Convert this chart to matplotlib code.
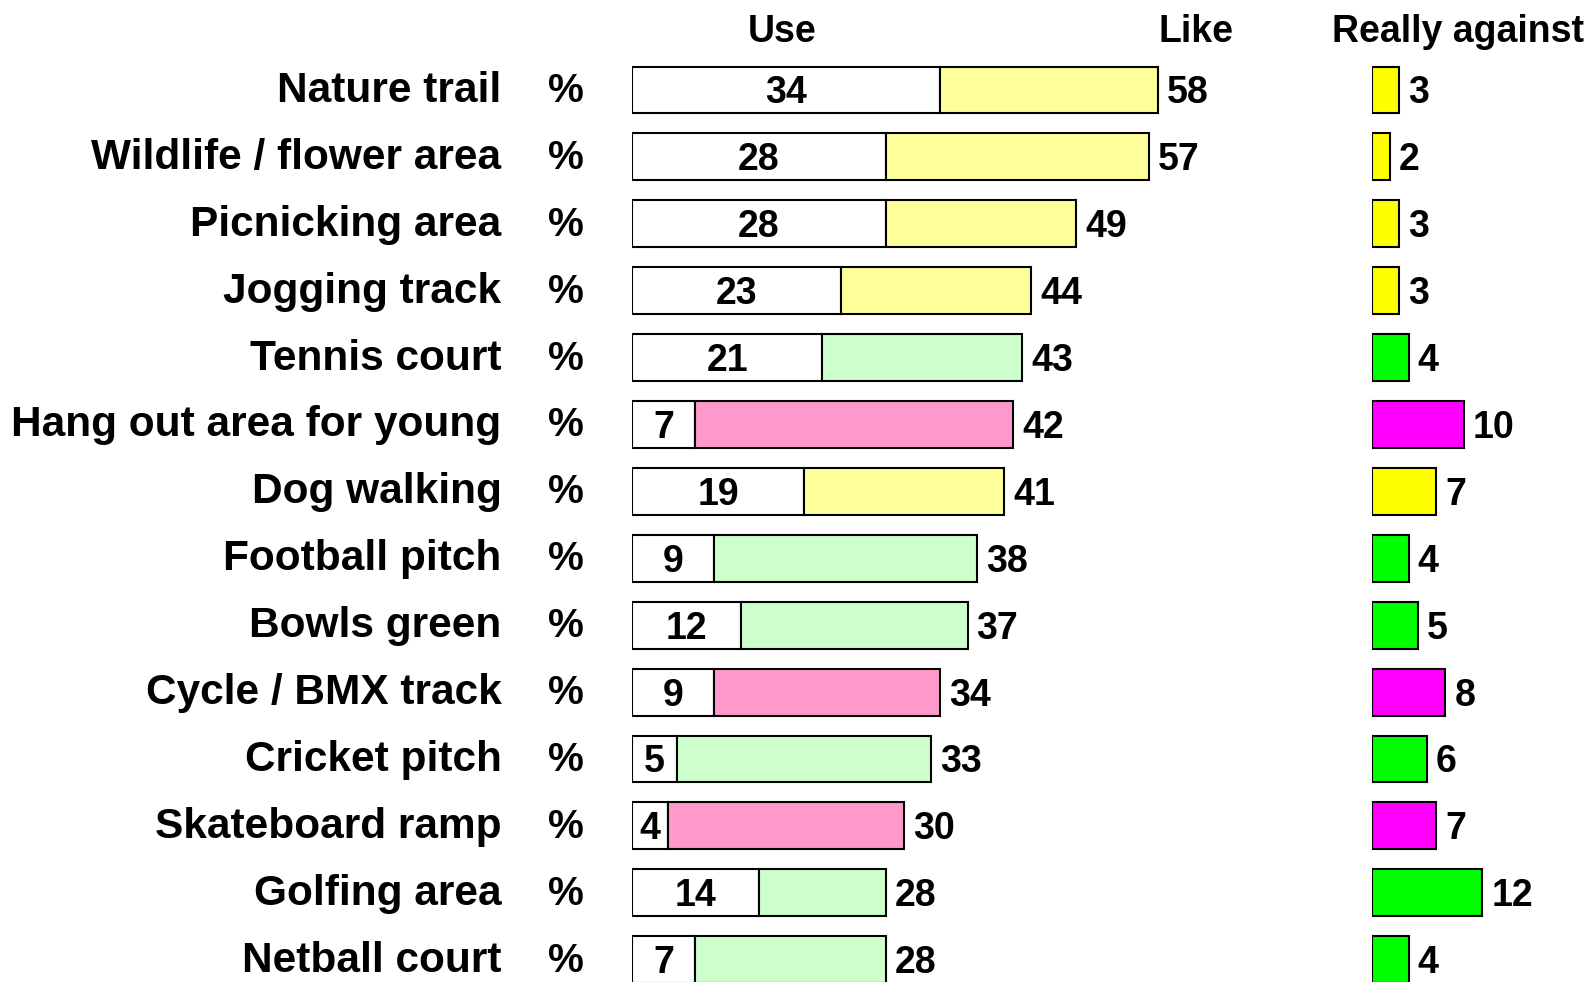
import matplotlib.pyplot as plt
from matplotlib.transforms import offset_copy

plt.rcParams['font.family'] = ['Liberation Sans', 'DejaVu Sans']
plt.rcParams['font.weight'] = 'bold'

# Park facilities, % who would use / like / be really against
facilities = ['Nature trail', 'Wildlife / flower area', 'Picnicking area', 'Jogging track',
              'Tennis court', 'Hang out area for young', 'Dog walking', 'Football pitch',
              'Bowls green', 'Cycle / BMX track', 'Cricket pitch', 'Skateboard ramp',
              'Golfing area', 'Netball court']
use = [34, 28, 28, 23, 21, 7, 19, 9, 12, 9, 5, 4, 14, 7]
like = [58, 57, 49, 44, 43, 42, 41, 38, 37, 34, 33, 30, 28, 28]
against = [3, 2, 3, 3, 4, 10, 7, 4, 5, 8, 6, 7, 12, 4]
group = ['y', 'y', 'y', 'y', 'g', 'p', 'y', 'g', 'g', 'p', 'g', 'p', 'g', 'g']

light = {'y': '#FFFF99', 'g': '#CCFFCC', 'p': '#FF99CC'}
strong = {'y': '#FFFF00', 'g': '#00FF00', 'p': '#FF00FF'}

W, H = 1585, 982
fig = plt.figure(figsize=(W / 100, H / 100), dpi=100)

row_px = 66.9
top_px = 90
ylim = ((H - top_px) / row_px, -top_px / row_px)

ax = fig.add_axes([632 / W, 0, 70 * 9.07 / W, 1])
ax2 = fig.add_axes([1371.7 / W, 0, 23 * 9.2 / W, 1])
for a in (ax, ax2):
    a.set_ylim(*ylim)
    a.axis('off')
ax.set_xlim(0, 70)
ax2.set_xlim(0, 23)

rows = list(range(len(facilities)))
bh = 0.70
lw = 1.5

ax.barh(rows, use, height=bh, color='white', edgecolor='black', linewidth=lw)
ax.barh(rows, [l - u for l, u in zip(like, use)], left=use, height=bh,
        color=[light[g] for g in group], edgecolor='black', linewidth=lw)
ax2.barh(rows, against, height=bh, color=[strong[g] for g in group],
         edgecolor='black', linewidth=lw)

num_fs = 27
lab_fs = 30.5
num_dy = 0.716 * num_fs * 100 / 72 / 2 / row_px   # centre digits on the bar
lab_dy = 12 / row_px

right_pad = offset_copy(ax.transData, fig=fig, x=6.5, y=0, units='points')
right_pad2 = offset_copy(ax2.transData, fig=fig, x=6.5, y=0, units='points')

for i in rows:
    ax.text(-14.4, i + lab_dy, facilities[i], ha='right', va='baseline',
            fontsize=lab_fs, clip_on=False)
    ax.text(-7.3, i + lab_dy, '%', ha='center', va='baseline',
            fontsize=29, clip_on=False)
    ax.text(use[i] / 2, i + num_dy, str(use[i]), ha='center', va='baseline',
            fontsize=num_fs)
    ax.text(like[i], i + num_dy, str(like[i]), ha='left', va='baseline',
            fontsize=num_fs, transform=right_pad)
    ax2.text(against[i], i + num_dy, str(against[i]), ha='left', va='baseline',
             fontsize=num_fs, transform=right_pad2)

hdr_y = (41.7 - top_px) / row_px
ax.text(16.5, hdr_y, 'Use', ha='center', va='baseline', fontsize=27, clip_on=False)
ax.text(62.2, hdr_y, 'Like', ha='center', va='baseline', fontsize=27, clip_on=False)
ax2.text(-4.3, hdr_y, 'Really against', ha='left', va='baseline', fontsize=27,
         clip_on=False)

fig.savefig('out.png', dpi=100)
